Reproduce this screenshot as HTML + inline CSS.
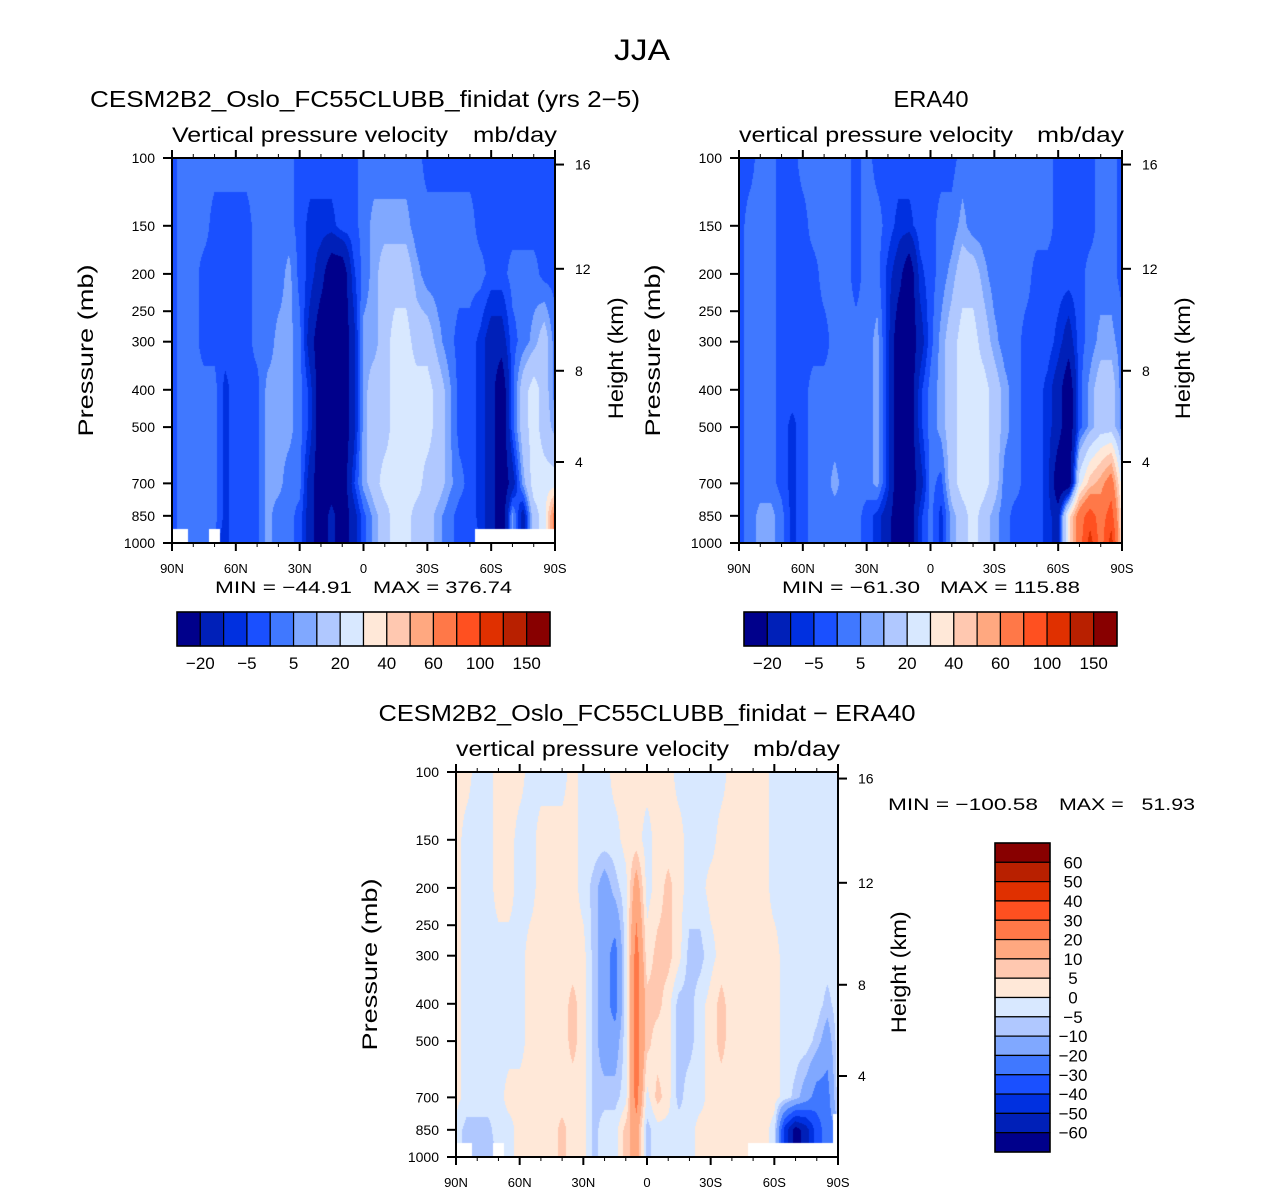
<!DOCTYPE html>
<html><head><meta charset="utf-8">
<style>
html,body{margin:0;padding:0;background:#fff;}
#wrap{position:relative;width:1285px;height:1193px;overflow:hidden;background:#fff;}
canvas{position:absolute;}
svg{position:absolute;left:0;top:0;}
text{font-family:"Liberation Sans",sans-serif;fill:#000;}
</style></head>
<body>
<div id="wrap">
<canvas id="c1" style="left:172px;top:158px" width="383" height="385"></canvas>
<canvas id="c2" style="left:739px;top:158px" width="383" height="385"></canvas>
<canvas id="c3" style="left:456px;top:772px" width="382" height="385"></canvas>
<svg id="ov" width="1285" height="1193"></svg>
</div>
<script>
// ---------- data ----------
const lats = [90,85,80,75,70,65,60,55,50,45,40,35,30,25,20,15,10,5,0,-5,-10,-15,-20,-25,-30,-35,-40,-45,-50,-55,-60,-65,-70,-75,-80,-85,-90];
const pressures = [100,150,200,300,400,500,700,850,1000];
const pTicks = [100,150,200,250,300,400,500,700,850,1000];
const kmTicks = [16,12,8,4];
const kmPressure = [104,194,357,616];
const latTickVals = [90,60,30,0,-30,-60,-90];
const latTickLabels = ["90N","60N","30N","0","30S","60S","90S"];
const levelsAbs = [-20,-10,-5,0,5,10,20,30,40,50,60,80,100,120,150];
const levelsAbsLabels = ["−20","−5","5","20","40","60","100","150"];
const levelsDiff = [-60,-50,-40,-30,-20,-10,-5,0,5,10,20,30,40,50,60];
const levelsDiffLabels = ["60","50","40","30","20","10","5","0","−5","−10","−20","−30","−40","−50","−60"];
const colors = ['#00008b','#0020b8','#0030e0','#1a50ff','#4078ff','#80a8ff','#b0c8ff','#d8e8ff','#ffe8d8','#ffc8b0','#ffa880','#ff7848','#ff5020','#e03000','#b82000','#880000'];
const N = null;
const model = [
[-2,2,2,2,2,2,2,2,2,2,2,2,-2,-2,-2,-2,-2,-2,2,2,2,2,2,2,-2,-2,-2,-2,-2,-2,-2,-2,-2,-2,-2,-2,-2],
[-2,2,2,2,-2,-2,-2,-2,2,2,2,2,-2,-7,-7,-7,-2,-2,2,7,7,7,7,2,2,2,2,2,2,-2,-2,-2,-2,-2,-2,-2,-2],
[-2,2,2,-2,-2,-2,-2,-2,2,2,2,7,-2,-7,-15,-30,-30,-7,2,7,15,15,15,7,2,2,2,2,2,2,-2,-2,2,2,2,-2,-2],
[-2,2,2,-2,-2,-2,-2,-2,2,2,7,7,2,-15,-30,-30,-30,-15,7,7,15,25,25,15,15,7,2,-2,-2,-7,-15,-15,-2,2,7,15,2],
[-2,2,2,2,2,-7,-2,-2,-2,7,7,7,2,-7,-30,-30,-30,-15,7,15,15,25,25,25,25,15,7,-2,-2,-7,-15,-30,-2,15,25,15,2],
[-2,2,2,2,2,-7,-2,-2,-2,7,7,7,2,-7,-30,-30,-30,-15,7,15,15,25,25,25,25,15,7,-2,-2,-7,-15,-30,-2,15,25,15,7],
[-2,2,2,2,2,-7,-2,-2,-2,7,7,2,2,-15,-30,-30,-30,-7,7,15,25,25,25,25,15,15,7,2,-2,-7,-15,-30,-15,7,25,25,25],
[-2,2,2,2,2,-7,-2,-2,-2,7,2,2,-2,-15,-30,-15,-30,-15,-2,7,15,25,25,15,15,7,2,-2,-2,-7,-15,-30,7,-15,15,25,70],
[N,N,2,2,N,-7,-2,-2,-2,7,2,2,-2,-15,-30,-15,-30,-15,-2,7,15,25,25,15,15,7,2,-2,-2,N,N,N,N,N,N,N,N]
];
const era40 = [
[-2,-2,2,2,-2,-2,2,2,2,2,2,-2,2,-2,-2,-2,-2,-2,-2,-2,-2,2,2,2,2,2,2,2,2,2,-2,-2,-2,-2,2,2,-2],
[-2,2,2,2,-2,-2,-2,2,2,2,2,-2,2,2,-2,-7,-7,-2,-2,2,2,7,2,2,2,2,2,2,2,2,-2,-2,-2,-2,2,2,-2],
[-2,2,2,2,-2,-2,-2,-2,2,2,2,-2,2,2,-7,-15,-30,-7,-2,2,7,15,15,7,2,2,2,2,-2,-2,-2,-2,-2,2,2,2,-2],
[-2,2,2,2,-2,-2,-2,-2,-2,2,2,2,2,7,-7,-30,-30,-15,-2,7,15,25,25,15,7,2,2,-2,-2,-2,-7,-15,-2,2,7,7,2],
[-2,2,2,2,-2,-2,-2,2,2,2,2,2,2,7,-7,-30,-30,-7,2,7,15,25,25,25,15,7,2,-2,-2,-7,-15,-30,-2,7,15,15,2],
[-2,2,2,2,-2,-7,-2,2,2,2,2,2,2,7,-7,-30,-30,-7,2,7,15,25,25,25,15,7,2,-2,-2,-7,-15,-30,-2,7,15,15,2],
[-2,2,2,2,-2,-7,-2,2,2,7,2,2,2,7,-7,-30,-30,-15,2,-2,15,25,25,25,15,2,2,-2,-2,-7,-30,-30,25,45,55,70,25],
[-2,2,7,7,2,-7,-2,2,2,2,2,2,-2,-7,-15,-30,-30,-7,2,-7,7,15,25,15,7,2,-2,-2,-2,-7,-15,35,70,90,70,90,35],
[-2,2,7,7,2,-7,-2,2,2,2,2,2,-2,-7,-15,-30,-30,-7,2,-7,7,15,25,15,7,2,-2,-2,-2,-7,-15,35,70,110,70,110,35]
];
const diff = [
[2,2,-2,-2,2,2,2,-2,-2,-2,-2,2,-2,-2,-2,2,2,2,2,2,2,-2,-2,-2,-2,-2,2,2,2,2,-2,-2,-2,-2,-2,-2,-2],
[2,-2,-2,-2,2,2,-2,-2,2,2,2,2,-2,-2,-2,-2,2,2,-2,2,2,2,-2,-2,-2,2,2,2,2,2,-2,-2,-2,-2,-2,-2,-2],
[2,-2,-2,-2,2,2,-2,-2,2,2,2,2,-2,-7,-15,-7,-2,15,-2,2,7,2,-2,-2,2,2,2,2,2,2,-2,-2,-2,-2,-2,-2,-2],
[2,-2,-2,-2,-2,-2,-2,2,2,2,2,2,2,-7,-15,-25,-2,25,2,7,7,2,-7,-7,-2,2,2,2,2,2,2,-2,-2,-2,-2,-2,-2],
[2,-2,-2,-2,-2,-2,-2,2,2,2,2,7,2,-7,-15,-25,-2,25,7,7,2,-7,-7,-2,2,7,2,2,2,2,2,-2,-2,-2,-2,-7,-2],
[2,-2,-2,-2,-2,-2,-2,2,2,2,2,7,2,-7,-15,-15,-2,25,7,2,2,-7,-7,-2,2,7,2,2,2,2,2,-2,-2,-2,-7,-15,-2],
[2,-2,-2,-2,-2,2,2,2,2,2,2,2,2,-7,-7,-7,-2,25,-2,7,2,-7,-2,-2,2,2,2,2,2,2,2,-2,-7,-15,-25,-25,-2],
[-2,-7,-7,-7,-2,-2,2,2,2,2,7,2,2,-7,-2,-2,7,15,-7,-2,-2,-2,-2,2,2,2,2,2,2,2,-2,-45,-65,-55,-35,-25,N],
[N,N,-7,-7,N,-2,2,2,2,2,7,2,2,-7,-2,-2,7,15,-7,-2,-2,-2,-2,2,2,2,2,2,N,N,N,N,N,N,N,N,N]
];
const statsModel = ["MIN = −44.91", "MAX = 376.74"];
const statsEra = ["MIN = −61.30", "MAX = 115.88"];
const statsDiff = ["MIN = −100.58", "MAX =   51.93"];

// ---------- rendering ----------
const NS = "http://www.w3.org/2000/svg";
const ov = document.getElementById('ov');
function mk(tag, attrs, parent) {
  const e = document.createElementNS(NS, tag);
  for (const k in attrs) e.setAttribute(k, attrs[k]);
  (parent || ov).appendChild(e);
  return e;
}
function hexToRgb(h){return [parseInt(h.substr(1,2),16),parseInt(h.substr(3,2),16),parseInt(h.substr(5,2),16)];}
const rgbs = colors.map(hexToRgb);
function bin(v, levels){let k=0;for(const b of levels){if(v>=b)k++;}return k;}

function drawField(id, grid, levels) {
  const cv = document.getElementById(id);
  const ctx = cv.getContext('2d');
  const w = cv.width, h = cv.height;
  const img = ctx.createImageData(w, h);
  const lp = pressures.map(p => Math.log10(p));
  const nLat = lats.length;
  for (let py = 0; py < h; py++) {
    const L = 2 + (py + 0.5) / h;
    let j = 0; while (j < lp.length - 2 && L > lp[j + 1]) j++;
    const t = Math.min(1, Math.max(0, (L - lp[j]) / (lp[j + 1] - lp[j])));
    for (let px = 0; px < w; px++) {
      const lat = 90 - (px + 0.5) / w * 180;
      let fi = 0; while (fi < nLat - 2 && lat < lats[fi + 1]) fi++;
      const s = Math.min(1, Math.max(0, (lats[fi] - lat) / (lats[fi] - lats[fi + 1])));
      const ni = s < 0.5 ? fi : fi + 1, nj = t < 0.5 ? j : j + 1;
      const o = (py * w + px) * 4;
      if (grid[nj][ni] === null) { img.data[o]=255;img.data[o+1]=255;img.data[o+2]=255;img.data[o+3]=255; continue; }
      const c = [[grid[j][fi],(1-s)*(1-t)],[grid[j][fi+1],s*(1-t)],[grid[j+1][fi],(1-s)*t],[grid[j+1][fi+1],s*t]];
      let sv=0, sw=0;
      for (const [v,wt] of c) if (v !== null) { sv += v*wt; sw += wt; }
      const v = sv / sw;
      const col = rgbs[bin(v, levels)];
      img.data[o]=col[0];img.data[o+1]=col[1];img.data[o+2]=col[2];img.data[o+3]=255;
    }
  }
  ctx.putImageData(img, 0, 0);
}
drawField('c1', model, levelsAbs);
drawField('c2', era40, levelsAbs);
drawField('c3', diff, levelsDiff);

function txt(s, x, y, size, anchor, extra, name) {
  const e = mk('text', Object.assign({x:x, y:y, 'font-size':size, 'text-anchor':anchor||'start'}, extra||{}));
  e.textContent = s;
  
  
  return e;
}

function axes(x0, y0, w, h, pre) {
  const g = mk('g', {});
  
  
  const yP = p => y0 + Math.log10(p / 100) * h;
  const xL = lat => x0 + (90 - lat) / 180 * w;
  mk('rect', {x:x0, y:y0, width:w, height:h, fill:'none', stroke:'#000', 'stroke-width':2}, g);
  for (let lat = 90; lat >= -90; lat -= 10) {
    const major = lat % 30 === 0;
    const len = major ? 8 : 4;
    const x = xL(lat);
    mk('line', {x1:x, x2:x, y1:y0, y2:y0 - len, stroke:'#000', 'stroke-width':major?2:1}, g);
    mk('line', {x1:x, x2:x, y1:y0 + h, y2:y0 + h + len, stroke:'#000', 'stroke-width':major?2:1}, g);
  }
  latTickVals.forEach((lat, i) => {
    txt(latTickLabels[i], xL(lat), y0 + h + 30, 13, 'middle', {}, pre + '-x-tick-label');
  });
  pTicks.forEach(p => {
    const y = yP(p);
    mk('line', {x1:x0 - 9, x2:x0, y1:y, y2:y, stroke:'#000', 'stroke-width':2}, g);
    txt(String(p), x0 - 17, y + 5, 14, 'end', {}, pre + '-y-tick-label');
  });
  kmTicks.forEach((km, i) => {
    const y = yP(kmPressure[i]);
    mk('line', {x1:x0 + w, x2:x0 + w + 9, y1:y, y2:y, stroke:'#000', 'stroke-width':2}, g);
    txt(String(km), x0 + w + 20, y + 5, 14, 'start', {}, pre + '-height-tick-label');
  });
  const cyP = y0 + h * 0.5;
  txt('Pressure (mb)', x0 - 79, cyP, 21, 'middle', {transform:`rotate(-90 ${x0-79} ${cyP})`, textLength:172, lengthAdjust:'spacingAndGlyphs'}, pre + '-y-axis-title');
  const cyH = y0 + h * 0.52;
  txt('Height (km)', x0 + w + 68, cyH, 21, 'middle', {transform:`rotate(-90 ${x0+w+68} ${cyH})`, textLength:122, lengthAdjust:'spacingAndGlyphs'}, pre + '-y2-axis-title');
}

txt('JJA', 642, 60, 30, 'middle', {textLength:56, lengthAdjust:'spacingAndGlyphs'}, 'figure-title');

// panel 1
txt('CESM2B2_Oslo_FC55CLUBB_finidat (yrs 2−5)', 365, 107, 23, 'middle', {textLength:550, lengthAdjust:'spacingAndGlyphs'}, 'model-panel-title');
txt('Vertical pressure velocity', 172, 142, 21, 'start', {textLength:276, lengthAdjust:'spacingAndGlyphs'}, 'model-variable-label');
txt('mb/day', 557, 142, 21, 'end', {textLength:84, lengthAdjust:'spacingAndGlyphs'}, 'model-units-label');
axes(172, 158, 383, 385, 'model');
txt(statsModel[0], 215, 593, 17, 'start', {textLength:137, lengthAdjust:'spacingAndGlyphs'}, 'model-min');
txt(statsModel[1], 512, 593, 17, 'end', {textLength:139, lengthAdjust:'spacingAndGlyphs'}, 'model-max');

// panel 2
txt('ERA40', 931, 107, 23, 'middle', {textLength:75, lengthAdjust:'spacingAndGlyphs'}, 'era40-panel-title');
txt('vertical pressure velocity', 739, 142, 21, 'start', {textLength:274, lengthAdjust:'spacingAndGlyphs'}, 'era40-variable-label');
txt('mb/day', 1124, 142, 21, 'end', {textLength:87, lengthAdjust:'spacingAndGlyphs'}, 'era40-units-label');
axes(739, 158, 383, 385, 'era40');
txt(statsEra[0], 782, 593, 17, 'start', {textLength:138, lengthAdjust:'spacingAndGlyphs'}, 'era40-min');
txt(statsEra[1], 1080, 593, 17, 'end', {textLength:140, lengthAdjust:'spacingAndGlyphs'}, 'era40-max');

// panel 3
txt('CESM2B2_Oslo_FC55CLUBB_finidat − ERA40', 647, 721, 23, 'middle', {textLength:537, lengthAdjust:'spacingAndGlyphs'}, 'difference-panel-title');
txt('vertical pressure velocity', 456, 756, 21, 'start', {textLength:273, lengthAdjust:'spacingAndGlyphs'}, 'difference-variable-label');
txt('mb/day', 840, 756, 21, 'end', {textLength:87, lengthAdjust:'spacingAndGlyphs'}, 'difference-units-label');
axes(456, 772, 382, 385, 'difference');
txt(statsDiff[0], 888, 810, 17, 'start', {textLength:150, lengthAdjust:'spacingAndGlyphs'}, 'difference-min');
txt(statsDiff[1], 1195, 810, 17, 'end', {textLength:136, lengthAdjust:'spacingAndGlyphs', style:'white-space:pre'}, 'difference-max');

// horizontal colorbars
function hbar(x0, y0, w, h, pre) {
  const bw = w / colors.length;
  colors.forEach((c, i) => {
    const r = mk('rect', {x:x0 + i*bw, y:y0, width:bw, height:h, fill:c, stroke:'#000', 'stroke-width':1.2});
    
    
  });
  mk('rect', {x:x0, y:y0, width:w, height:h, fill:'none', stroke:'#000', 'stroke-width':1.5});
  levelsAbsLabels.forEach((s, k) => {
    txt(s, x0 + (2*k + 1) * bw, y0 + h + 23, 17, 'middle', {}, pre + '-colorbar-label');
  });
}
hbar(177, 612, 373, 34, 'model');
hbar(744, 612, 373, 34, 'era40');

// vertical colorbar
(function(){
  const x0 = 995, y0 = 843, w = 55, h = 309;
  const bh = h / colors.length;
  for (let i = 0; i < colors.length; i++) {
    const r = mk('rect', {x:x0, y:y0 + i*bh, width:w, height:bh, fill:colors[colors.length-1-i], stroke:'#000', 'stroke-width':1.2});
    
    
  }
  mk('rect', {x:x0, y:y0, width:w, height:h, fill:'none', stroke:'#000', 'stroke-width':1.5});
  levelsDiffLabels.forEach((s, k) => {
    txt(s, 1073, y0 + (k + 1) * bh + 6, 17, 'middle', {}, 'difference-colorbar-label');
  });
})();
</script>
</body></html>
